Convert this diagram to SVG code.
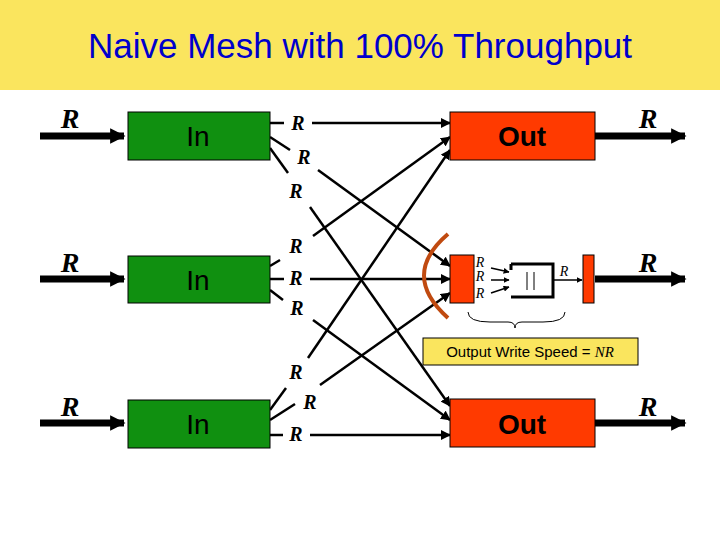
<svg xmlns="http://www.w3.org/2000/svg" width="720" height="540" viewBox="0 0 720 540">
<style>
.in{fill:#109010;stroke:#000;stroke-width:1}
.out{fill:#ff3a00;stroke:#000;stroke-width:1}
.bt{font-family:"Liberation Sans",Arial,sans-serif;font-size:28px;text-anchor:middle}
.r{font-family:"Liberation Serif","Times New Roman",serif;font-style:italic;font-weight:bold;font-size:20px;text-anchor:middle}
.rb{font-family:"Liberation Serif","Times New Roman",serif;font-style:italic;font-size:28px;text-anchor:middle;font-weight:bold}
.rs{font-family:"Liberation Serif","Times New Roman",serif;font-style:italic;font-size:14px;text-anchor:middle}
.l{stroke:#000;stroke-width:2.5;fill:none}
.t{stroke:#000;stroke-width:7;fill:none}
</style>
<defs>
<marker id="a" viewBox="0 0 10 10" refX="9" refY="5" markerWidth="4" markerHeight="4" orient="auto"><path d="M0,0L10,5L0,10z" fill="#000"/></marker>
<marker id="b" viewBox="0 0 10 10" refX="9" refY="5" markerWidth="2.2" markerHeight="2.2" orient="auto"><path d="M0,0L10,5L0,10z" fill="#000"/></marker>
</defs>
<rect width="720" height="540" fill="#fff"/>
<rect width="720" height="90" fill="#fae55e"/>
<text x="360" y="58" font-family="Liberation Sans,Arial,sans-serif" font-size="35" text-anchor="middle" fill="#0000cc">Naive Mesh with 100% Throughput</text>
<g id="connectors">
<line class="t" x1="40" y1="136" x2="124" y2="136" marker-end="url(#b)"/>
<line class="t" x1="40" y1="279" x2="124" y2="279" marker-end="url(#b)"/>
<line class="t" x1="40" y1="423" x2="124" y2="423" marker-end="url(#b)"/>
<line class="t" x1="595" y1="136" x2="685" y2="136" marker-end="url(#b)"/>
<line class="t" x1="595" y1="279" x2="685" y2="279" marker-end="url(#b)"/>
<line class="t" x1="595" y1="423" x2="685" y2="423" marker-end="url(#b)"/>
<line class="l" x1="270" y1="123" x2="284" y2="123"/>
<line class="l" x1="312" y1="123" x2="450" y2="123" marker-end="url(#a)"/>
<line class="l" x1="270" y1="137" x2="290" y2="150"/>
<line class="l" x1="318" y1="170" x2="450" y2="266" marker-end="url(#a)"/>
<line class="l" x1="270" y1="148" x2="288" y2="173"/>
<line class="l" x1="310" y1="207" x2="450" y2="406" marker-end="url(#a)"/>
<line class="l" x1="270" y1="266" x2="280" y2="260"/>
<line class="l" x1="313" y1="236" x2="450" y2="137" marker-end="url(#a)"/>
<line class="l" x1="270" y1="279" x2="284" y2="279"/>
<line class="l" x1="310" y1="279" x2="450" y2="279" marker-end="url(#a)"/>
<line class="l" x1="270" y1="290" x2="283" y2="300"/>
<line class="l" x1="313" y1="320" x2="450" y2="420" marker-end="url(#a)"/>
<line class="l" x1="308" y1="358" x2="450" y2="150" marker-end="url(#a)"/>
<line class="l" x1="270" y1="410" x2="286" y2="388"/>
<line class="l" x1="320" y1="385" x2="450" y2="293" marker-end="url(#a)"/>
<line class="l" x1="270" y1="420" x2="295" y2="404"/>
<line class="l" x1="270" y1="435" x2="283" y2="435"/>
<line class="l" x1="310" y1="435" x2="450" y2="435" marker-end="url(#a)"/>
<line x1="491" y1="268" x2="509" y2="272" stroke="#000" stroke-width="1.5" marker-end="url(#a)"/>
<line x1="491" y1="280" x2="509" y2="280" stroke="#000" stroke-width="1.5" marker-end="url(#a)"/>
<line x1="491" y1="293" x2="509" y2="287" stroke="#000" stroke-width="1.5" marker-end="url(#a)"/>
<line x1="553" y1="280" x2="582" y2="280" stroke="#000" stroke-width="1.5" marker-end="url(#a)"/>
</g>
<g id="in1"><rect class="in" x="128" y="112" width="142" height="48"/><text class="bt" x="198" y="146">In</text></g>
<g id="in2"><rect class="in" x="128" y="256" width="142" height="47"/><text class="bt" x="198" y="290">In</text></g>
<g id="in3"><rect class="in" x="128" y="400" width="142" height="48"/><text class="bt" x="198" y="434">In</text></g>
<g id="out1"><rect class="out" x="450" y="112" width="145" height="48"/><text class="bt" x="522" y="146" font-weight="bold">Out</text></g>
<g id="out3"><rect class="out" x="450" y="399" width="145" height="48"/><text class="bt" x="522" y="434" font-weight="bold">Out</text></g>
<g id="out2">
<rect class="out" x="450" y="255" width="24" height="48"/>
<path d="M511,264H553V297H511M511,264V270" fill="#fff" stroke="#000" stroke-width="3"/>
<line x1="527" y1="272" x2="527" y2="290" stroke="#000" stroke-width="1"/>
<line x1="534" y1="272" x2="534" y2="290" stroke="#000" stroke-width="1"/>
<rect class="out" x="583" y="255" width="11" height="48"/>
<text class="rs" x="480" y="267">R</text><text class="rs" x="480" y="281">R</text><text class="rs" x="480" y="298">R</text>
<text class="rs" x="564" y="276">R</text>
</g>
<path d="M448,234Q400,275 448,318" stroke="#c04a10" stroke-width="4" fill="none"/>
<path d="M468,312Q468,322 490,322H508Q515,322 515,328Q515,322 522,322H543Q565,322 565,312" stroke="#000" stroke-width="1" fill="none"/>
<g id="note"><rect x="423" y="338" width="215" height="27" fill="#fae55e" stroke="#000" stroke-width="1"/>
<text x="530" y="357" font-family="Liberation Sans,Arial,sans-serif" font-size="15" text-anchor="middle">Output Write Speed = <tspan font-family="Liberation Serif,Times New Roman,serif" font-style="italic">NR</tspan></text></g>
<g id="labels">
<text class="rb" x="70" y="128">R</text><text class="rb" x="70" y="272">R</text><text class="rb" x="70" y="416">R</text>
<text class="rb" x="648" y="128">R</text><text class="rb" x="648" y="272">R</text><text class="rb" x="648" y="416">R</text>
<text class="r" x="298" y="130">R</text><text class="r" x="304" y="164">R</text><text class="r" x="296" y="198">R</text>
<text class="r" x="296" y="253">R</text><text class="r" x="296" y="285">R</text><text class="r" x="297" y="315">R</text>
<text class="r" x="296" y="379">R</text><text class="r" x="310" y="409">R</text><text class="r" x="296" y="441">R</text>
</g>
</svg>
